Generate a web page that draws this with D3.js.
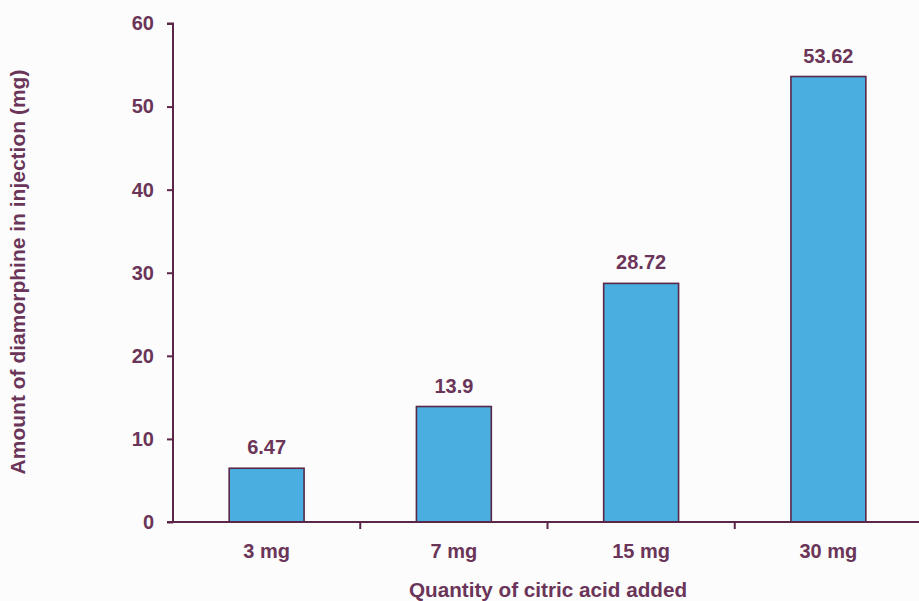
<!DOCTYPE html>
<html><head><meta charset="utf-8">
<script src="https://cdn.jsdelivr.net/npm/d3@7"></script>
<style>body{margin:0;background:#fcfcfc;} text{font-family:"Liberation Sans",Arial,sans-serif;}</style>
</head><body>
<svg id="c" width="919" height="601"></svg>
<script>
const categories = ["3 mg", "7 mg", "15 mg", "30 mg"];
const values = [6.47, 13.9, 28.72, 53.62];
const valueLabels = ["6.47", "13.9", "28.72", "53.62"];
const yTicks = [0, 10, 20, 30, 40, 50, 60];

const ink = "#6a3558", axisInk = "#5a2748", fill = "#4aaee0";
const svg = d3.select("#c");
const x = d3.scaleBand().domain(categories).range([173, 922]).paddingInner(0).paddingOuter(0);
const y = d3.scaleLinear().domain([0, 60]).range([522, 23.5]);

// bars
svg.selectAll("rect.bar").data(values).enter().append("rect")
  .attr("x", (d, i) => x(categories[i]) + x.bandwidth() * 0.3)
  .attr("width", x.bandwidth() * 0.4)
  .attr("y", d => y(d)).attr("height", d => y(0) - y(d))
  .attr("fill", fill).attr("stroke", axisInk).attr("stroke-width", 1.6);

// value labels
svg.selectAll("text.val").data(values).enter().append("text")
  .attr("x", (d, i) => x(categories[i]) + x.bandwidth() / 2)
  .attr("y", d => y(d) - 14)
  .attr("text-anchor", "middle").attr("font-size", 20).attr("font-weight", "bold").attr("fill", ink)
  .text((d, i) => valueLabels[i]);

// y axis
const ya = svg.append("g").attr("transform", "translate(173,0)")
  .call(d3.axisLeft(y).tickValues(yTicks).tickSize(6).tickPadding(13));
ya.select(".domain").attr("stroke", axisInk).attr("stroke-width", 2).attr("d", `M-6,${y(60)}H0V${y(0)}`);
ya.selectAll(".tick line").attr("stroke", axisInk).attr("stroke-width", 2);
ya.selectAll(".tick text").attr("fill", ink).attr("font-size", 20).attr("font-weight", "bold")
  .attr("font-family", "Liberation Sans, Arial, sans-serif");

// x axis
const xa = svg.append("g").attr("transform", `translate(0,${y(0)})`)
  .call(d3.axisBottom(x).tickSize(0).tickPadding(22));
xa.select(".domain").attr("stroke", axisInk).attr("stroke-width", 2).attr("d", `M167,0H919`);
xa.selectAll(".tick text").attr("fill", ink).attr("font-size", 20).attr("font-weight", "bold")
  .attr("font-family", "Liberation Sans, Arial, sans-serif");
// boundary ticks
svg.selectAll("line.bt").data(categories.slice(1)).enter().append("line")
  .attr("x1", d => x(d)).attr("x2", d => x(d))
  .attr("y1", y(0)).attr("y2", y(0) + 7)
  .attr("stroke", axisInk).attr("stroke-width", 2);

// axis titles
svg.append("text").attr("x", 548).attr("y", 597).attr("text-anchor", "middle")
  .attr("font-size", 20.7).attr("font-weight", "bold").attr("fill", ink).text("Quantity of citric acid added");
svg.append("text").attr("transform", "translate(25,272) rotate(-90)").attr("text-anchor", "middle")
  .attr("font-size", 21).attr("font-weight", "bold").attr("fill", ink).text("Amount of diamorphine in injection (mg)");
</script>
</body></html>
